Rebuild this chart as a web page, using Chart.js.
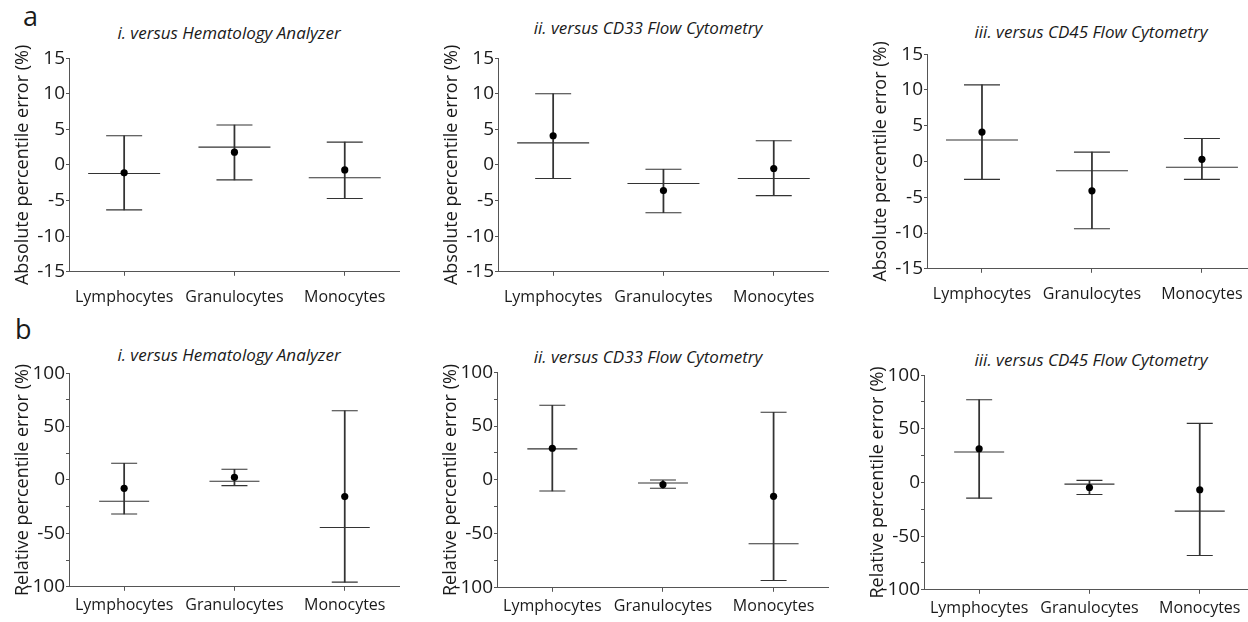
<!DOCTYPE html>
<html>
<head>
<meta charset="utf-8">
<script src="https://cdn.jsdelivr.net/npm/chart.js@4.4.0/dist/chart.umd.min.js"></script>
<style>
body { margin: 0; width: 1248px; height: 622px; background: #fff; position: relative; overflow: hidden; font-family: 'Open Sans', sans-serif; color: #1a1a1a; }
canvas { position: absolute; }
.ttl { position: absolute; font-style: italic; font-size: 17px; line-height: 22px; white-space: nowrap; transform: translateX(-50%); }
.lbl { position: absolute; font-size: 27px; line-height: 30px; }
</style>
</head>
<body>
<div class="lbl" style="left:23px;top:1px">a</div>
<div class="lbl" style="left:15px;top:314px">b</div>
<div class="ttl" style="left:229px;top:22px">i. versus Hematology Analyzer</div>
<div class="ttl" style="left:648px;top:17px">ii. versus CD33 Flow Cytometry</div>
<div class="ttl" style="left:1091px;top:21px">iii. versus CD45 Flow Cytometry</div>
<div class="ttl" style="left:229px;top:344px">i. versus Hematology Analyzer</div>
<div class="ttl" style="left:648px;top:346px">ii. versus CD33 Flow Cytometry</div>
<div class="ttl" style="left:1091px;top:349px">iii. versus CD45 Flow Cytometry</div>
<canvas id="a1"></canvas><canvas id="a2"></canvas><canvas id="a3"></canvas>
<canvas id="b1"></canvas><canvas id="b2"></canvas><canvas id="b3"></canvas>
<script>
const categories = ['Lymphocytes', 'Granulocytes', 'Monocytes'];

// tick labels
const absTicks = [-15, -10, -5, 0, 5, 10, 15];
const relTicks = [-100, -50, 0, 50, 100];

// a: absolute percentile error
const absHemaHigh = [4.1, 5.6, 3.2];
const absHemaLow = [-6.3, -2.1, -4.7];
const absHemaMid = [-1.2, 2.5, -1.8];
const absHemaDot = [-1.1, 1.8, -0.7];

const absCd33High = [10.0, -0.6, 3.4];
const absCd33Low = [-1.9, -6.7, -4.3];
const absCd33Mid = [3.1, -2.6, -1.9];
const absCd33Dot = [4.1, -3.6, -0.5];

const absCd45High = [10.7, 1.3, 3.2];
const absCd45Low = [-2.5, -9.4, -2.5];
const absCd45Mid = [3.0, -1.3, -0.8];
const absCd45Dot = [4.1, -4.1, 0.3];

// b: relative percentile error
const relHemaHigh = [15.6, 10, 64.8];
const relHemaLow = [-31.8, -5.3, -95.6];
const relHemaMid = [-19.9, -1.2, -44.5];
const relHemaDot = [-7.8, 2.5, -15.6];

const relCd33High = [69.3, 0, 62.8];
const relCd33Low = [-10.2, -7.7, -93.2];
const relCd33Mid = [28.8, -2.8, -59.1];
const relCd33Dot = [29.4, -4.3, -15.2];

const relCd45High = [77, 1.9, 55];
const relCd45Low = [-14.6, -11.2, -68];
const relCd45Mid = [28.3, -1.6, -26.7];
const relCd45Dot = [31.4, -4.7, -6.8];

const axisColor = '#555';
const lineColor = '#333';

const panels = [
    { id: 'a1', high: absHemaHigh, low: absHemaLow, mid: absHemaMid, dot: absHemaDot, ticks: absTicks, step: 2.5, title: 'Absolute percentile error (%)', cap: 18, bias: 36, xPad: 12, box: { left: 69, top: 57.7, right: 400, bottom: 271.7 } },
    { id: 'a2', high: absCd33High, low: absCd33Low, mid: absCd33Mid, dot: absCd33Dot, ticks: absTicks, step: 2.5, title: 'Absolute percentile error (%)', cap: 18, bias: 36, xPad: 12, box: { left: 497.7, top: 57.7, right: 829, bottom: 271.7 } },
    { id: 'a3', high: absCd45High, low: absCd45Low, mid: absCd45Mid, dot: absCd45Dot, ticks: absTicks, step: 2.5, title: 'Absolute percentile error (%)', cap: 18, bias: 36, xPad: 12, box: { left: 926.7, top: 54, right: 1257, bottom: 268.7 } },
    { id: 'b1', high: relHemaHigh, low: relHemaLow, mid: relHemaMid, dot: relHemaDot, ticks: relTicks, step: 25, title: 'Relative percentile error (%)', cap: 13, bias: 25, xPad: 5, box: { left: 69.3, top: 373.3, right: 400, bottom: 587.3 } },
    { id: 'b2', high: relCd33High, low: relCd33Low, mid: relCd33Mid, dot: relCd33Dot, ticks: relTicks, step: 25, title: 'Relative percentile error (%)', cap: 13, bias: 25, xPad: 5, box: { left: 497.3, top: 371.7, right: 829, bottom: 587 } },
    { id: 'b3', high: relCd45High, low: relCd45Low, mid: relCd45Mid, dot: relCd45Dot, ticks: relTicks, step: 25, title: 'Relative percentile error (%)', cap: 13, bias: 25, xPad: 5, box: { left: 924, top: 375.3, right: 1255, bottom: 590 } }
];

function markSet(values, radius) {
    return {
        type: 'line', data: values, showLine: false, order: 1,
        pointStyle: 'line', pointRadius: radius, pointHoverRadius: radius,
        pointBorderColor: lineColor, pointBorderWidth: 1.1
    };
}

function makeConfig(p) {
    const tickLabels = p.ticks;
    return {
        type: 'bar',
        data: {
            labels: categories,
            datasets: [
                { type: 'line', data: p.dot, showLine: false, order: 0, pointStyle: 'circle', pointRadius: 3.6, pointHoverRadius: 3.6, pointBackgroundColor: '#000', pointBorderWidth: 0 },
                { data: p.low.map((l, i) => [l, p.high[i]]), backgroundColor: lineColor, borderWidth: 0, barThickness: 1.1, order: 2 },
                markSet(p.high, p.cap),
                markSet(p.low, p.cap),
                markSet(p.mid, p.bias)
            ]
        },
        options: {
            responsive: false,
            animation: false,
            events: [],
            layout: { padding: { top: 14, right: 0, bottom: 0, left: 0 } },
            plugins: { legend: { display: false }, tooltip: { enabled: false } },
            scales: {
                x: {
                    offset: true,
                    grid: { offset: false, drawOnChartArea: false, drawTicks: true, tickLength: 4, color: axisColor },
                    border: { color: axisColor, width: 1 },
                    ticks: { color: '#1a1a1a', font: { family: 'Open Sans', size: 16 }, padding: p.xPad, maxRotation: 0 }
                },
                y: {
                    min: tickLabels[0], max: tickLabels[tickLabels.length - 1],
                    afterFit: function (scale) { scale.width = 57; },
                    grid: { drawOnChartArea: false, drawTicks: true, tickLength: 3, color: axisColor },
                    border: { color: axisColor, width: 1 },
                    title: { display: true, text: p.title, color: '#1a1a1a', font: { family: 'Open Sans', size: 18 }, padding: 0 },
                    ticks: {
                        stepSize: p.step, color: '#1a1a1a', font: { family: 'Open Sans', size: 19 }, padding: 1,
                        callback: function (v) { return tickLabels.includes(v) ? String(v) : ''; }
                    }
                }
            }
        }
    };
}

// draw once, read margins around the plot area, then size and place the canvas
panels.forEach(p => {
    const canvas = document.getElementById(p.id);
    canvas.width = 420; canvas.height = 320;
    let chart = new Chart(canvas, makeConfig(p));
    const a = chart.chartArea;
    const w = (p.box.right - p.box.left) + (420 - (a.right - a.left));
    const h = (p.box.bottom - p.box.top) + (320 - (a.bottom - a.top));
    chart.destroy();
    canvas.width = Math.round(w); canvas.height = Math.round(h);
    canvas.style.width = Math.round(w) + 'px'; canvas.style.height = Math.round(h) + 'px';
    chart = new Chart(canvas, makeConfig(p));
    canvas.style.left = (p.box.left - chart.chartArea.left) + 'px';
    canvas.style.top = (p.box.top - chart.chartArea.top) + 'px';
});
</script>
</body>
</html>
